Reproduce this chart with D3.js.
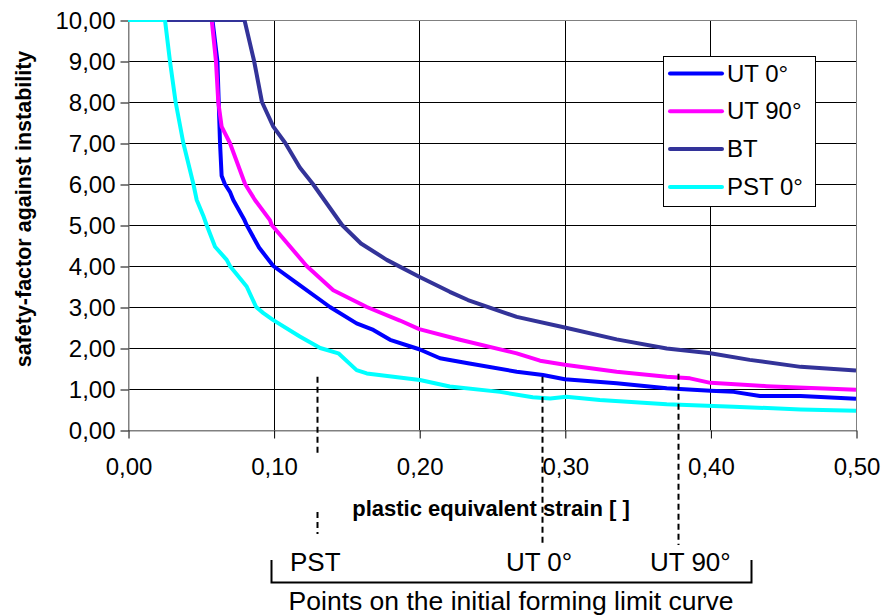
<!DOCTYPE html>
<html>
<head>
<meta charset="utf-8">
<script src="https://cdn.jsdelivr.net/npm/d3@7"></script>
<style>
body { margin: 0; background: #fff; }
text { font-family: Arial, "Liberation Sans", sans-serif; fill: #000; }
</style>
</head>
<body>
<svg id="chart" width="882" height="615"></svg>
<script>
// series names + colours (legend order = draw order)
var seriesNames = ["UT 0°", "UT 90°", "BT", "PST 0°"];
var seriesColors = ["#0000ff", "#ff00ff", "#333399", "#00ffff"];

// [plastic equivalent strain, safety factor]
var ut0 = [[0,10],[0.058,10],[0.0614,9],[0.0623,8],[0.0632,7],[0.0643,6.2],[0.0665,6.0],[0.070,5.81],
  [0.0723,5.61],[0.080,5.12],[0.0815,5.0],[0.090,4.45],[0.0998,4.0],[0.116,3.58],[0.1387,3.0],[0.157,2.6],
  [0.1685,2.44],[0.180,2.2],[0.200,1.97],[0.2143,1.75],[0.2335,1.63],[0.267,1.42],[0.285,1.34],[0.300,1.24],
  [0.3356,1.14],[0.370,1.02],[0.400,0.96],[0.416,0.93],[0.434,0.83],[0.462,0.83],[0.500,0.76]];
var ut90 = [[0,10],[0.0575,10],[0.0604,9],[0.062,8],[0.0643,7.4],[0.070,7.0],[0.0804,6.0],[0.0872,5.61],
  [0.0975,5.12],[0.0987,5.0],[0.1227,4.0],[0.141,3.41],[0.164,3.0],[0.1868,2.67],[0.200,2.46],[0.228,2.2],
  [0.267,1.87],[0.283,1.69],[0.300,1.59],[0.3356,1.42],[0.370,1.30],[0.386,1.26],[0.400,1.15],[0.4386,1.07],
  [0.500,0.98]];
var bt = [[0,10],[0.080,10],[0.0866,9],[0.092,8],[0.0998,7.4],[0.108,7.0],[0.118,6.4],[0.127,6.0],
  [0.137,5.5],[0.147,5.0],[0.160,4.55],[0.1777,4.15],[0.200,3.74],[0.221,3.37],[0.2335,3.17],[0.267,2.76],
  [0.300,2.50],[0.3356,2.21],[0.370,1.99],[0.400,1.87],[0.427,1.71],[0.462,1.54],[0.500,1.45]];
var pst0 = [[0,10],[0.0254,10],[0.0288,9],[0.0327,8],[0.038,7],[0.0449,6],[0.0472,5.61],[0.052,5.2],
  [0.054,5.0],[0.0598,4.47],[0.0678,4.15],[0.070,4.0],[0.0815,3.5],[0.088,3.0],[0.093,2.85],[0.0998,2.68],
  [0.118,2.28],[0.132,2.0],[0.1445,1.87],[0.157,1.46],[0.164,1.38],[0.2005,1.22],[0.221,1.06],[0.2555,0.93],
  [0.278,0.80],[0.290,0.77],[0.301,0.81],[0.324,0.73],[0.370,0.63],[0.416,0.57],[0.462,0.50],[0.500,0.47]];
var allSeries = [ut0, ut90, bt, pst0];

var xTicks = [0, 0.1, 0.2, 0.3, 0.4, 0.5];
var yTicks = [0, 1, 2, 3, 4, 5, 6, 7, 8, 9, 10];

// points on the initial forming limit curve
var flcLabels = ["PST", "UT 0°", "UT 90°"];
var flcStrain = [0.130, 0.2844, 0.378];
var flcSafety = [1.30, 1.30, 1.37];

function drawChart() {
  var svg = d3.select("#chart");
  var pLeft = 128, pRight = 856, pTop = 20, pBottom = 430;

  var x = d3.scaleLinear().domain([0, 0.5]).range([pLeft, pRight]);
  var y = d3.scaleLinear().domain([0, 10]).range([pBottom, pTop]);
  var fmt = function(v) { return d3.format(".2f")(v).replace(".", ","); };

  svg.append("defs").append("clipPath").attr("id", "plotclip")
    .append("rect").attr("x", pLeft).attr("y", pTop).attr("width", pRight - pLeft).attr("height", pBottom - pTop);

  // gridlines
  svg.append("g").selectAll("line").data(yTicks.filter(function(d) { return d > 0 && d < 10; }))
    .enter().append("line")
    .attr("x1", pLeft).attr("x2", pRight)
    .attr("y1", function(d) { return y(d) + 0.5; }).attr("y2", function(d) { return y(d) + 0.5; })
    .attr("stroke", "#000").attr("stroke-width", 1);
  svg.append("g").selectAll("line").data(xTicks.filter(function(d) { return d > 0 && d < 0.5; }))
    .enter().append("line")
    .attr("y1", pTop).attr("y2", pBottom)
    .attr("x1", function(d) { return Math.round(x(d)) + 0.5; }).attr("x2", function(d) { return Math.round(x(d)) + 0.5; })
    .attr("stroke", "#000").attr("stroke-width", 1);

  svg.append("rect").attr("x", pLeft + 0.5).attr("y", pTop + 0.5)
    .attr("width", pRight - pLeft).attr("height", pBottom - pTop)
    .attr("fill", "none").attr("stroke", "#808080").attr("stroke-width", 1);

  // axes
  var yAxis = svg.append("g").attr("transform", "translate(" + (pLeft + 0.5) + ",0.5)")
    .call(d3.axisLeft(y).tickValues(yTicks).tickFormat(fmt).tickSize(8).tickSizeOuter(0).tickPadding(5));
  var xAxis = svg.append("g").attr("transform", "translate(0.5," + (pBottom + 0.5) + ")")
    .call(d3.axisBottom(x).tickValues(xTicks).tickFormat(fmt).tickSize(8).tickSizeOuter(0).tickPadding(19));
  [yAxis, xAxis].forEach(function(a) {
    a.select(".domain").attr("stroke", "#808080");
    a.selectAll(".tick line").attr("stroke", "#000");
    a.selectAll("text").style("font-size", "24px").style("font-family", "Arial, 'Liberation Sans', sans-serif");
  });

  // curves
  var line = d3.line().x(function(d) { return x(d[0]); }).y(function(d) { return y(d[1]); });
  svg.append("g").attr("clip-path", "url(#plotclip)")
    .selectAll("path").data(allSeries).enter().append("path")
    .attr("d", line)
    .attr("fill", "none")
    .attr("stroke", function(d, i) { return seriesColors[i]; })
    .attr("stroke-width", 4)
    .attr("stroke-linejoin", "round");

  // dashed markers
  var flc = svg.append("g");
  flcStrain.forEach(function(s, i) {
    var px = Math.round(x(s)) + 0.5;
    var segs = i == 0 ? [[y(flcSafety[i]), 456], [512, 534]] : [[y(flcSafety[i]), 545]];
    segs.forEach(function(sg) {
      flc.append("line").attr("x1", px).attr("x2", px).attr("y1", sg[0]).attr("y2", sg[1])
        .attr("stroke", "#000").attr("stroke-width", 2).attr("stroke-dasharray", "6,4");
    });
  });

  var labelShift = [-2, -3, 12];
  flc.selectAll("text").data(flcLabels).enter().append("text")
    .attr("x", function(d, i) { return x(flcStrain[i]) + labelShift[i]; })
    .attr("y", 571)
    .attr("text-anchor", "middle")
    .style("font-size", "26px")
    .text(function(d) { return d; });

  // bracket
  flc.append("path")
    .attr("d", "M271.5,560V582.5H751.5V560")
    .attr("fill", "none").attr("stroke", "#000").attr("stroke-width", 2);
  flc.append("text").attr("x", 511).attr("y", 610).attr("text-anchor", "middle")
    .style("font-size", "26.5px").text("Points on the initial forming limit curve");

  // axis titles
  svg.append("text").attr("x", 491).attr("y", 516).attr("text-anchor", "middle")
    .style("font-size", "22px").style("font-weight", "bold").text("plastic equivalent strain [ ]");
  svg.append("text").attr("transform", "translate(31,209) rotate(-90)").attr("text-anchor", "middle")
    .style("font-size", "21.5px").style("font-weight", "bold").text("safety-factor against instability");

  // legend
  var legend = svg.append("g");
  legend.append("rect").attr("x", 663.5).attr("y", 56.5).attr("width", 152).attr("height", 150)
    .attr("fill", "#fff").attr("stroke", "#000").attr("stroke-width", 1);
  var items = legend.selectAll("g.item").data(seriesNames).enter().append("g").attr("class", "item")
    .attr("transform", function(d, i) { return "translate(0," + (73.5 + i * 37.8) + ")"; });
  items.append("line").attr("x1", 670).attr("x2", 722).attr("y1", 0).attr("y2", 0)
    .attr("stroke", function(d, i) { return seriesColors[i]; }).attr("stroke-width", 4).attr("stroke-linecap", "round");
  items.append("text").attr("x", 727).attr("y", 8).style("font-size", "24px").text(function(d) { return d; });
}

drawChart();
</script>
</body>
</html>
